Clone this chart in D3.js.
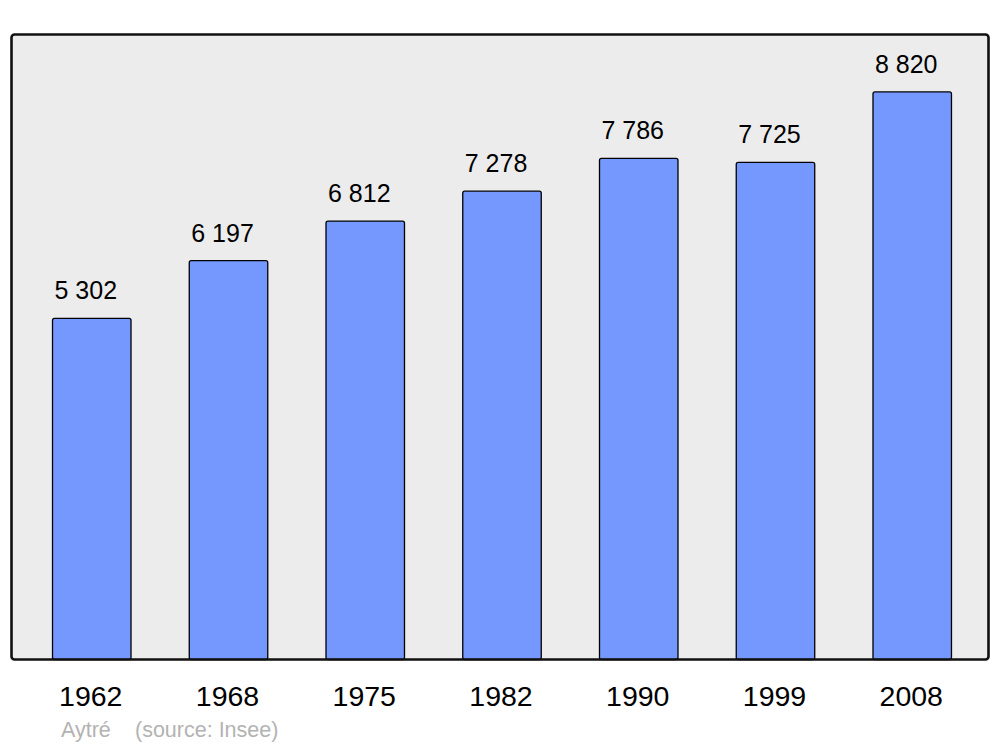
<!DOCTYPE html>
<html>
<head>
<meta charset="utf-8">
<script src="https://cdn.jsdelivr.net/npm/d3@7"></script>
<style>
  html, body { margin: 0; padding: 0; background: #ffffff; }
  svg { display: block; font-family: "Liberation Sans", Arial, sans-serif; }
</style>
</head>
<body>
<svg id="chart" width="1000" height="747"></svg>
<script>
const years = ["1962", "1968", "1975", "1982", "1990", "1999", "2008"];
const population = [5302, 6197, 6812, 7278, 7786, 7725, 8820];
const valueLabels = ["5 302", "6 197", "6 812", "7 278", "7 786", "7 725", "8 820"];
const commune = "Aytré";
const source = "(source: Insee)";

const svg = d3.select("#chart");

const frame = { left: 11.5, top: 34.5, right: 988.5, bottom: 659.5 };

const x = d3.scaleBand()
  .domain(years)
  .range([13, 991])
  .paddingInner(0.426)
  .paddingOuter(0.289);

const y = d3.scaleLinear()
  .domain([0, 9712])
  .range([frame.bottom, frame.top]);

// plot background
svg.append("rect")
  .attr("x", frame.left)
  .attr("y", frame.top)
  .attr("width", frame.right - frame.left)
  .attr("height", frame.bottom - frame.top)
  .attr("rx", 3).attr("ry", 3)
  .attr("fill", "#ececec");

// bars
svg.append("g").selectAll("rect")
  .data(years)
  .join("rect")
  .attr("x", d => x(d))
  .attr("y", (d, i) => y(population[i]))
  .attr("width", x.bandwidth())
  .attr("height", (d, i) => y(0) - y(population[i]))
  .attr("rx", 2).attr("ry", 2)
  .attr("fill", "#7598ff")
  .attr("stroke", "#000")
  .attr("stroke-width", 1.3);

// value labels
svg.append("g").selectAll("text")
  .data(years)
  .join("text")
  .attr("x", d => x(d) + x.bandwidth() / 2 - 6)
  .attr("y", (d, i) => y(population[i]) - 19)
  .attr("text-anchor", "middle")
  .attr("font-size", 25)
  .attr("fill", "#000")
  .text((d, i) => valueLabels[i]);

// frame border on top
svg.append("rect")
  .attr("x", frame.left)
  .attr("y", frame.top)
  .attr("width", frame.right - frame.left)
  .attr("height", frame.bottom - frame.top)
  .attr("rx", 3).attr("ry", 3)
  .attr("fill", "none")
  .attr("stroke", "#111")
  .attr("stroke-width", 2.6);

// x axis labels
const xAxis = d3.axisBottom(x).tickSize(0).tickPadding(0);
const gx = svg.append("g")
  .attr("transform", `translate(0,${frame.bottom})`)
  .call(xAxis);
gx.select(".domain").remove();
gx.selectAll("text")
  .attr("x", -1)
  .attr("y", 46)
  .attr("dy", null)
  .attr("font-size", 28.5)
  .attr("font-family", "Liberation Sans, Arial, sans-serif")
  .attr("fill", "#000");

// footer
svg.append("text")
  .attr("x", 61)
  .attr("y", 737)
  .attr("font-size", 21.5)
  .attr("fill", "#b3b3b3")
  .text(commune);
svg.append("text")
  .attr("x", 135)
  .attr("y", 737)
  .attr("font-size", 21.5)
  .attr("fill", "#b3b3b3")
  .text(source);
</script>
</body>
</html>
